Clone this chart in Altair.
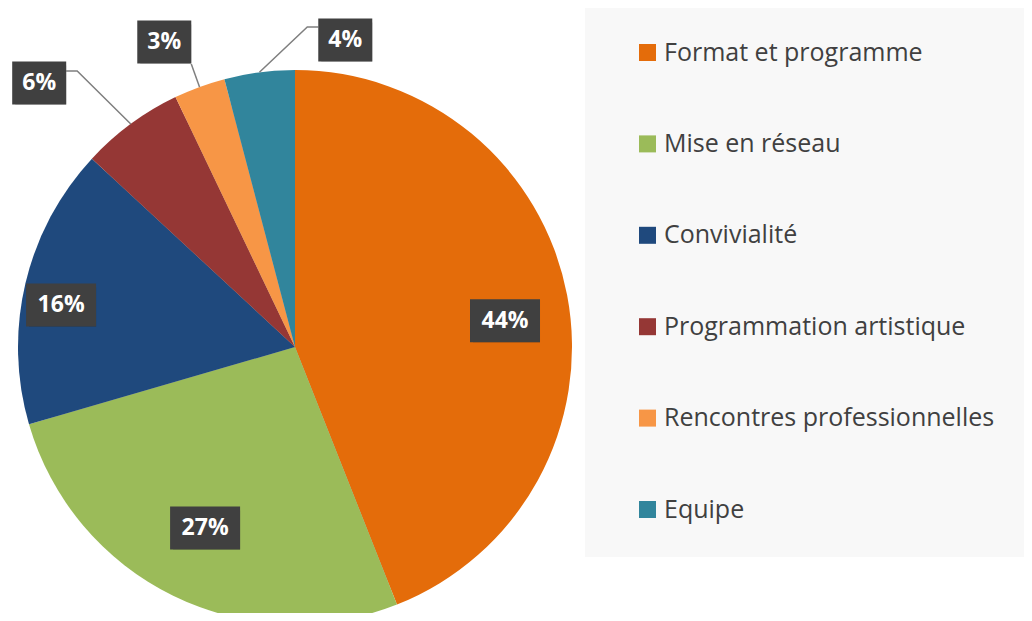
import math
import altair as alt
import pandas as pd

# ---- data ----
categories = ["Format et programme", "Mise en réseau", "Convivialité",
              "Programmation artistique", "Rencontres professionnelles", "Equipe"]
values = [44.0, 26.5, 16.4, 6.0, 3.0, 4.1]
labels = ["44%", "27%", "16%", "6%", "3%", "4%"]
colors = ["#E46C0A", "#9BBB59", "#1F497D", "#953735", "#F79646", "#31859C"]

# ---- layout ----
W, H = 1016, 605
CX, CY, R = 287, 339, 277
label_angle = [82.9, 206.4, 280.2, 315.9, 336.8, 9.3]      # degrees, clockwise from top
label_radius = [0.764, 0.730, 0.858, 1.327, 1.198, 1.123]  # fraction of pie radius
leader_pts = {3: [(38, -12), (27, -12)], 4: [(27, 22)], 5: [(-38, -13), (-27, -13)]}
FONT = "Open Sans"

total = sum(values)
pie = pd.DataFrame({"category": categories, "value": values, "idx": range(len(values))})

# label boxes (unit coordinates, y downwards)
rows, lines = [], []
cum = 0.0
for i, (lab, v) in enumerate(zip(labels, values)):
    mid = (cum + v / 2) / total * 2 * math.pi
    cum += v
    a = math.radians(label_angle[i])
    u = math.sin(a) * label_radius[i]
    w = -math.cos(a) * label_radius[i]
    bw = (16 * len(lab) + 22) / R
    bh = 43 / R
    rows.append({"label": lab, "u": u, "w": w, "u1": u - bw / 2, "u2": u + bw / 2,
                 "w1": w - bh / 2, "w2": w + bh / 2})
    if i in leader_pts:
        pts = [(math.sin(mid), -math.cos(mid))] + [(u + dx / R, w + dy / R) for dx, dy in leader_pts[i]]
        for k, (pu, pw) in enumerate(pts):
            lines.append({"slice": i, "k": k, "u": pu, "w": pw})
boxes = pd.DataFrame(rows)
leaders = pd.DataFrame(lines)

xs = alt.Scale(domain=[-CX / R, (W - CX) / R], range=[0, W])
ys = alt.Scale(domain=[-CY / R, (H - CY) / R], range=[0, H])

# soft shadow around the pie
shadow_r = list(range(R + 1, R + 25, 2))
shadow_df = pd.DataFrame({"r": shadow_r, "s": [math.pi * r * r for r in shadow_r]})
shadow = alt.Chart(shadow_df).mark_circle(color="black", opacity=0.024).encode(
    x=alt.value(CX), y=alt.value(CY + 2),
    size=alt.Size("s:Q", scale=None, legend=None),
)

arcs = alt.Chart(pie).mark_arc(radius=R, strokeWidth=0).encode(
    theta=alt.Theta("value:Q", stack=True),
    order=alt.Order("idx:Q"),
    color=alt.Color(
        "category:N",
        scale=alt.Scale(domain=categories, range=colors),
        sort=categories,
        legend=alt.Legend(
            orient="none", legendX=577, legendY=-2, title=None,
            symbolType="square", symbolSize=289, symbolStrokeWidth=0,
            symbolOffset=16, padding=34, fillColor="#f8f8f8",
            labelFont=FONT, labelFontSize=25, labelColor="#404040",
            labelOffset=4, rowPadding=65.4, labelLimit=0,
        ),
    ),
    x=alt.value(CX), y=alt.value(CY),
)

leader = alt.Chart(leaders).mark_line(color="#7f7f7f", strokeWidth=1.5).encode(
    x=alt.X("u:Q", scale=xs, axis=None),
    y=alt.Y("w:Q", scale=ys, axis=None),
    detail="slice:N",
    order="k:Q",
)

box_shadow = alt.Chart(boxes).mark_rect(color="black", opacity=0.3, xOffset=3, yOffset=4).encode(
    x=alt.X("u1:Q", scale=xs, axis=None), x2="u2:Q",
    y=alt.Y("w1:Q", scale=ys, axis=None), y2="w2:Q",
)
box = alt.Chart(boxes).mark_rect(color="#404040").encode(
    x=alt.X("u1:Q", scale=xs, axis=None), x2="u2:Q",
    y=alt.Y("w1:Q", scale=ys, axis=None), y2="w2:Q",
)
text = alt.Chart(boxes).mark_text(
    font=FONT, fontSize=23, fontWeight="bold", color="white", align="center", baseline="middle"
).encode(
    x=alt.X("u:Q", scale=xs, axis=None),
    y=alt.Y("w:Q", scale=ys, axis=None),
    text="label:N",
)

chart = alt.layer(shadow, arcs, leader, box_shadow, box, text).properties(
    width=W, height=H, padding=0, autosize=alt.AutoSizeParams(type="none")
).configure_view(stroke=None)

chart.save("out.html", embed_options={"renderer": "svg", "actions": False})
